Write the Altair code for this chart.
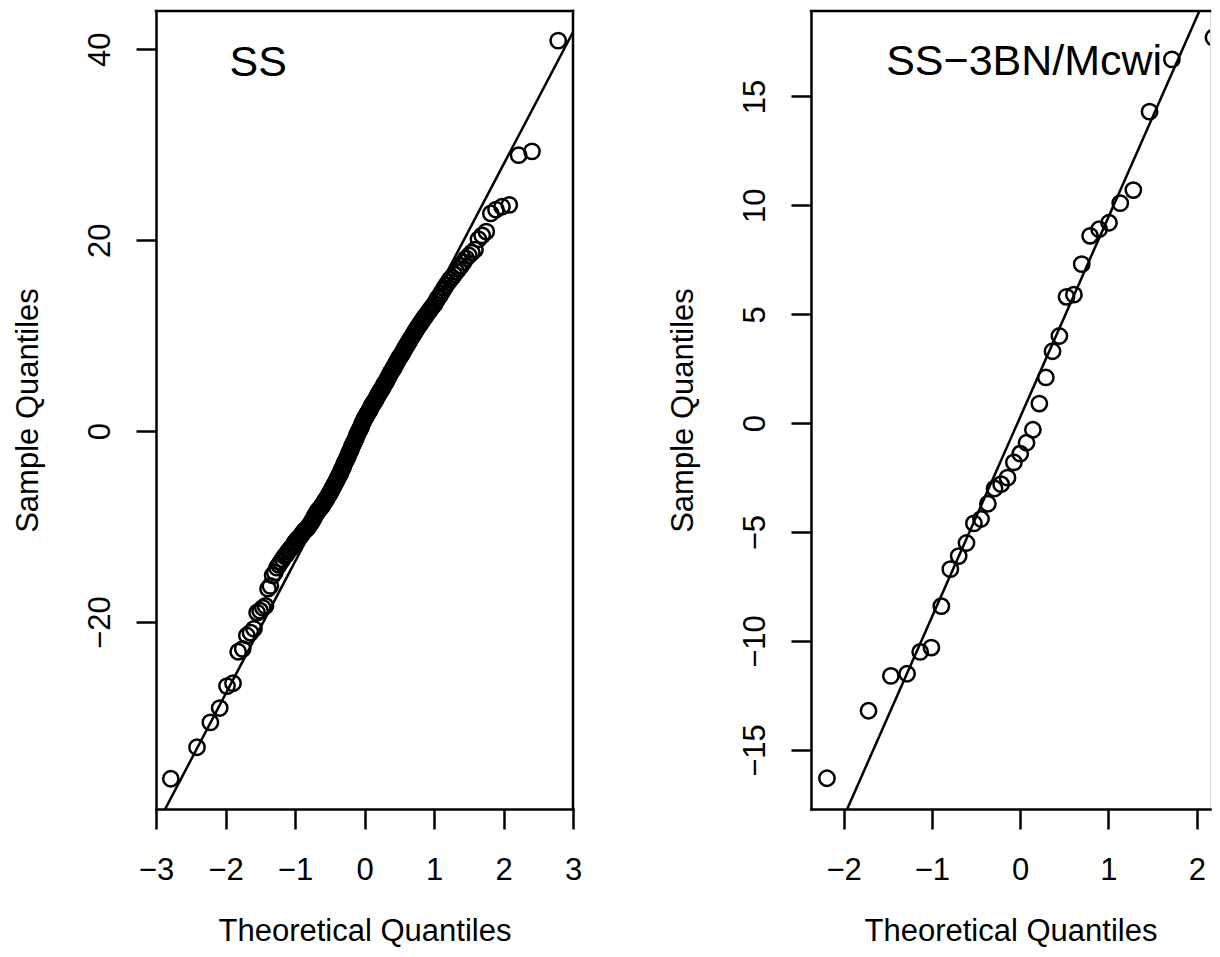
import altair as alt
import pandas as pd

FONT = "Liberation Sans"

# ---- data ----
ss_values = [
    -36.4, -33.1, -30.5, -29.0, -26.7, -26.4, -23.1, -22.8, -21.4, -21.1,
    -20.7, -19.0, -18.8, -18.5, -18.3, -16.5, -16.2, -15.1, -14.8, -14.3,
    -14.0, -13.7, -13.4, -13.1, -12.9, -12.6,
    -12.4, -12.2, -12.0, -11.7, -11.5, -11.3, -11.2, -11.0, -10.8, -10.6,
    -10.4, -10.3, -10.2, -10.0, -9.8, -9.6, -9.4, -9.2, -8.9, -8.7,
    -8.5, -8.3, -8.2, -8.0, -7.9, -7.7, -7.5, -7.3, -7.2, -7.0,
    -6.8, -6.6, -6.4, -6.2, -6.0, -5.8, -5.6, -5.4, -5.2, -5.0,
    -4.8, -4.6, -4.4, -4.1, -3.9, -3.7, -3.4, -3.2, -3.0, -2.8,
    -2.6, -2.3, -2.1, -1.9, -1.6, -1.4, -1.2, -1.0, -0.8, -0.5,
    -0.3, -0.1, 0.1, 0.3, 0.5, 0.8, 1.0, 1.2,
    1.4, 1.5, 1.7, 1.9, 2.0, 2.2, 2.4, 2.6, 2.8, 2.9,
    3.1, 3.2, 3.4, 3.6, 3.8, 3.9, 4.1, 4.3, 4.4, 4.6,
    4.8, 5.0, 5.1, 5.3, 5.5, 5.7, 5.9, 6.1, 6.3, 6.4,
    6.6, 6.8, 7.0, 7.2, 7.4, 7.6, 7.8, 7.9, 8.1, 8.3,
    8.5, 8.7, 8.9, 9.1, 9.3, 9.5, 9.7, 9.9, 10.1, 10.3,
    10.5, 10.7, 10.9, 11.1, 11.3, 11.5, 11.7, 11.9, 12.1, 12.3,
    12.5, 12.7, 12.9, 13.1, 13.3, 13.6, 13.9, 14.1, 14.4, 14.7,
    15.0, 15.3, 15.6, 15.9, 16.1,
    16.4, 16.7, 17.0, 17.3, 17.7, 18.1, 18.4, 18.7, 19.0, 20.1,
    20.5, 20.9, 22.8, 23.2, 23.5, 23.7, 28.9, 29.3, 40.9,
]
mcwi_values = [
    -16.3, -13.2, -11.6, -11.5, -10.5, -10.3, -8.4, -6.7, -6.1, -5.5,
    -4.6, -4.4, -3.7, -3.0, -2.8, -2.5, -1.8, -1.4, -0.9, -0.3,
    0.9, 2.1, 3.3, 4.0, 5.8, 5.9, 7.3, 8.6, 8.9, 9.2,
    10.1, 10.7, 14.3, 16.7, 17.7,
]

ss_line_x = [-2.87, 3.0]
ss_line_y = [-39.6, 41.8]
mcwi_line_x = [-1.96, 2.03]
mcwi_line_y = [-17.71, 18.92]

ss_xticks = [-3, -2, -1, 0, 1, 2, 3]
ss_yticks = [-20, 0, 20, 40]
mcwi_xticks = [-2, -1, 0, 1, 2]
mcwi_yticks = [-15, -10, -5, 0, 5, 10, 15]

ss_label = "SS"
mcwi_label = "SS\u22123BN/Mcwi"
ss_label_pos = (-1.53, 37.2)
mcwi_label_pos = (0.045, 15.96)

x_title = "Theoretical Quantiles"
y_title = "Sample Quantiles"


def panel(values, lx, ly, xdom, ydom, xticks, yticks, label, lpos, w, h, right_border):
    xs = alt.Scale(domain=xdom, nice=False, zero=False)
    ys = alt.Scale(domain=ydom, nice=False, zero=False)
    common = dict(
        grid=False, tickSize=20, tickWidth=2.5, tickColor="black",
        domain=True, domainColor="black", domainWidth=2.5, domainCap="square",
        labelFont=FONT, labelFontSize=31, labelColor="black",
        labelFlush=False, labelOverlap=False, labelBound=False,
        titleFont=FONT, titleFontSize=31, titleFontWeight="normal",
        titleColor="black",
    )
    xaxis = alt.Axis(values=xticks, title=x_title, labelAngle=0,
                     labelPadding=50, labelBaseline="alphabetic", labelAlign="center",
                     titleX=w / 2, titleY=131, titleBaseline="alphabetic",
                     titleAlign="center", titleAngle=0, **common)
    yaxis = alt.Axis(values=yticks, title=y_title, labelAngle=270,
                     labelPadding=27, labelBaseline="alphabetic", labelAlign="center",
                     titleX=-119, titleY=h / 2, titleBaseline="alphabetic",
                     titleAlign="center", titleAngle=270, **common)

    base = (
        alt.Chart(pd.DataFrame({"v": values}))
        .transform_window(rank="row_number()", sort=[alt.SortField("v", order="ascending")])
        .transform_joinaggregate(n="count()")
        .transform_calculate(q="quantileNormal((datum.rank - 0.5) / datum.n)")
    )
    pts = base.mark_point(shape="circle", filled=False, size=235, strokeWidth=2.5,
                          color="black", opacity=1, clip=True).encode(
        x=alt.X("q:Q", scale=xs, axis=xaxis),
        y=alt.Y("v:Q", scale=ys, axis=yaxis),
    )
    line = alt.Chart(pd.DataFrame({"q": lx, "v": ly})).mark_line(
        color="black", strokeWidth=2.5, clip=True).encode(
        x=alt.X("q:Q", scale=xs, axis=xaxis),
        y=alt.Y("v:Q", scale=ys, axis=yaxis),
    )
    txt = alt.Chart(pd.DataFrame({"q": [lpos[0]], "v": [lpos[1]], "t": [label]})).mark_text(
        font=FONT, fontSize=43, align="center", baseline="alphabetic", color="black").encode(
        x=alt.X("q:Q", scale=xs, axis=xaxis),
        y=alt.Y("v:Q", scale=ys, axis=yaxis),
        text="t:N",
    )
    one = pd.DataFrame({"k": [0]})
    top = alt.Chart(one).mark_rule(color="black", strokeWidth=2.5, strokeCap="square").encode(
        x=alt.value(0), x2=alt.value(w), y=alt.value(0))
    layers = [pts, line, txt, top]
    if right_border:
        rb = alt.Chart(one).mark_rule(color="black", strokeWidth=2.5, strokeCap="square").encode(
            x=alt.value(w), y=alt.value(0), y2=alt.value(h))
        layers.append(rb)
    return alt.layer(*layers).properties(width=w, height=h)


left = panel(ss_values, ss_line_x, ss_line_y, [-3.0, 3.0], [-39.57, 44.0],
             ss_xticks, ss_yticks, ss_label, ss_label_pos, 417, 798, True)
right = panel(mcwi_values, mcwi_line_x, mcwi_line_y, [-2.37, 2.15], [-17.71, 18.92],
              mcwi_xticks, mcwi_yticks, mcwi_label, mcwi_label_pos, 399, 798, False)

chart = (
    alt.hconcat(left, right, spacing=83)
    .properties(padding={"left": 3, "top": 0, "right": -1.5, "bottom": 0})
    .configure_view(strokeOpacity=0, strokeWidth=0)
    .configure(background="white")
)

chart.save("out.html", embed_options={"renderer": "svg", "actions": False})
